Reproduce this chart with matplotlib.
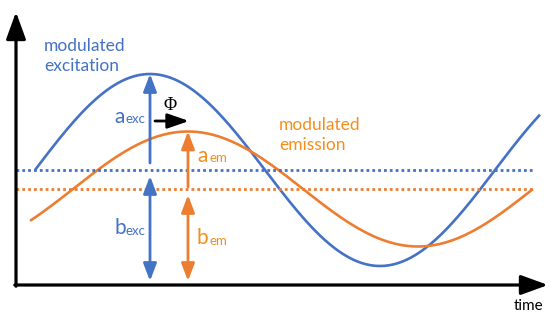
import numpy as np
import matplotlib.pyplot as plt

# (time and signal in pixel-like units, origin at axis corner)
period = 460.0
exc_offset, exc_amp, exc_peak = 115.0, 96.0, 134.0
em_offset, em_amp, em_peak = 96.0, 57.5, 172.0
exc_range = [19.0, 524.0]
em_range = [14.0, 517.0]
baseline_end = 517.0

blue = '#4472C4'
orange = '#ED7D31'
orange_txt = '#F2901E'

plt.rcParams['font.family'] = ['Lato', 'DejaVu Sans']

fig = plt.figure(figsize=(5.54, 3.15), dpi=100)
ax = fig.add_axes([0, 0, 1, 1])
ax.set_xlim(-16, 538)
ax.set_ylim(-30, 285)
ax.axis('off')

# Curves
tExc = np.linspace(exc_range[0], exc_range[1], 400)
tEm = np.linspace(em_range[0], em_range[1], 400)
exc = exc_offset + exc_amp * np.cos(2 * np.pi * (tExc - exc_peak) / period)
em = em_offset + em_amp * np.cos(2 * np.pi * (tEm - em_peak) / period)
ax.plot(tExc, exc, color=blue, lw=1.9, solid_capstyle='butt')
ax.plot(tEm, em, color=orange, lw=1.9, solid_capstyle='butt')

# Dotted baselines
ax.plot([0, baseline_end], [exc_offset, exc_offset], color=blue, lw=2, ls=(0, (1, 1.1)))
ax.plot([0, baseline_end], [em_offset, em_offset], color=orange, lw=2, ls=(0, (1, 1.1)))

# Axes arrows
axis_arrow = dict(arrowstyle='-|>,head_length=1.65,head_width=0.6', color='black', lw=2.3,
                  shrinkA=0, shrinkB=0, mutation_scale=10)
ax.annotate('', xy=(0, 273), xytext=(0, -1.2), arrowprops=axis_arrow, annotation_clip=False)
ax.annotate('', xy=(532, 0), xytext=(-1.2, 0), arrowprops=axis_arrow, annotation_clip=False)
ax.text(513, -21, 'time', fontsize=11, ha='center', va='center')


def vArrow(x, y0, y1, color, both):
    style = '<|-|>' if both else '-|>'
    ax.annotate('', xy=(x, y1), xytext=(x, y0),
                arrowprops=dict(arrowstyle=style + ',head_length=1.05,head_width=0.4', color=color,
                                lw=2, shrinkA=0, shrinkB=0, mutation_scale=10))


# Amplitude / offset arrows
vArrow(exc_peak, exc_offset + 7, exc_offset + exc_amp, blue, False)
vArrow(exc_peak, 4, exc_offset - 6, blue, True)
vArrow(em_peak, em_offset + 2, em_offset + em_amp, orange, False)
vArrow(em_peak, 4, em_offset - 6, orange, True)

# Phase arrow
ax.annotate('', xy=(em_peak + 1, 164), xytext=(exc_peak + 5, 164),
            arrowprops=dict(arrowstyle='-|>,head_length=1.3,head_width=0.45', color='black',
                            lw=2, shrinkA=0, shrinkB=0, mutation_scale=10))
ax.text(154, 180, 'Φ', fontsize=13, family='Liberation Serif', ha='center', va='center')

# Labels
ax.text(98, 168, 'a', fontsize=15, color=blue, ha='left', va='center')
ax.text(110, 166, 'exc', fontsize=9.5, color=blue, ha='left', va='center')
ax.text(98, 57, 'b', fontsize=15, color=blue, ha='left', va='center')
ax.text(110, 54, 'exc', fontsize=9.5, color=blue, ha='left', va='center')
ax.text(181, 129, 'a', fontsize=15, color=orange_txt, ha='left', va='center')
ax.text(193, 127, 'em', fontsize=9.5, color=orange_txt, ha='left', va='center')
ax.text(181, 47, 'b', fontsize=15, color=orange_txt, ha='left', va='center')
ax.text(193, 44, 'em', fontsize=9.5, color=orange_txt, ha='left', va='center')

ax.text(28, 229, 'modulated\nexcitation', fontsize=12.5, color=blue, ha='left', va='center',
        linespacing=1.25)
ax.text(263, 150, 'modulated\nemission', fontsize=12.5, color=orange_txt, ha='left', va='center',
        linespacing=1.25)

fig.savefig('out.png', dpi=100)
